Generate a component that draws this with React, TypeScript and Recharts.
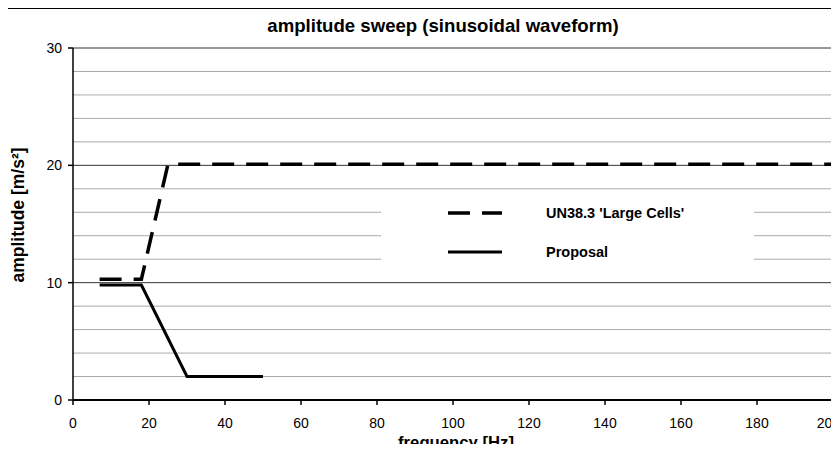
import { LineChart, Line, XAxis, YAxis, CartesianGrid, Legend, Label } from 'recharts'

// UN38.3 'Large Cells' profile
const UN_FREQ = [7, 18, 25, 200]
const UN_AMP = [10.3, 10.3, 20.1, 20.1]

// proposal profile
const PROP_FREQ = [7, 18, 30, 50]
const PROP_AMP = [9.8, 9.8, 2, 2]

const X_TICKS = [0, 20, 40, 60, 80, 100, 120, 140, 160, 180, 200]
const Y_TICKS = [0, 10, 20, 30]
const MINOR_GRID = [2, 4, 6, 8, 12, 14, 16, 18, 22, 24, 26, 28]
const MAJOR_GRID = [10, 20, 30]

const FONT = '"Liberation Sans", Arial, sans-serif'

const SERIES = [
  { key: 'un', name: "UN38.3 'Large Cells'", dash: '22 12', width: 3.5 },
  { key: 'prop', name: 'Proposal', dash: undefined, width: 3 },
]

const unData = UN_FREQ.map((f, i) => ({ f, un: UN_AMP[i] }))
const propData = PROP_FREQ.map((f, i) => ({ f, prop: PROP_AMP[i] }))

function LegendBox() {
  return (
    <div style={{ position: 'relative', width: 373, height: 80, background: '#fff', fontFamily: FONT }}>
      {SERIES.map((s, idx) => (
        <div
          key={s.key}
          style={{
            position: 'absolute', left: 0, top: (idx === 0 ? 18 : 57) - 10, height: 20,
            display: 'flex', alignItems: 'center',
          }}
        >
          <svg width={54} height={20} style={{ marginLeft: 67 }}>
            <line x1={0} y1={10} x2={54} y2={10} stroke="#000" strokeWidth={s.width} strokeDasharray={s.dash} />
          </svg>
          <span style={{ marginLeft: 44, fontSize: 14.5, fontWeight: 'bold', whiteSpace: 'nowrap' }}>{s.name}</span>
        </div>
      ))}
    </div>
  )
}

export default function App() {
  return (
    <div
      style={{
        position: 'relative', width: 839, height: 452, margin: -8, overflow: 'hidden',
        background: '#fff', fontFamily: FONT,
      }}
    >
      <div style={{ position: 'absolute', left: 5, top: 8, width: 900, height: 500, border: '1px solid #000' }} />
      <div
        style={{
          position: 'absolute', left: 443, top: 17, transform: 'translateX(-50%)',
          fontSize: 18.6, lineHeight: '18px', fontWeight: 'bold', whiteSpace: 'nowrap',
        }}
      >
        amplitude sweep (sinusoidal waveform)
      </div>
      <div
        style={{
          position: 'absolute', left: 18, top: 215, transform: 'translate(-50%, -50%) rotate(-90deg)',
          fontSize: 17.5, lineHeight: '17px', fontWeight: 'bold', whiteSpace: 'nowrap',
        }}
      >
        amplitude [m/s²]
      </div>
      <div style={{ position: 'absolute', left: 0, top: 0 }}>
        <LineChart width={839} height={452} margin={{ top: 48, right: 6, bottom: 0, left: 0 }}>
          <CartesianGrid vertical={false} horizontalValues={MINOR_GRID} stroke="#aaaaaa" strokeWidth={1} />
          <CartesianGrid vertical={false} horizontalValues={MAJOR_GRID} stroke="#333" strokeWidth={1} />
          <XAxis
            type="number"
            dataKey="f"
            domain={[0, 200]}
            ticks={X_TICKS}
            allowDataOverflow
            height={52}
            tickSize={5}
            tickMargin={13}
            axisLine={{ stroke: '#000', strokeWidth: 2 }}
            tickLine={{ stroke: '#000', strokeWidth: 1.5 }}
            tick={{ fill: '#000', fontSize: 14, fontFamily: FONT }}
          >
            <Label
              value="frequency [Hz]"
              position="insideBottom"
              offset={4}
              dx={3}
              fill="#000"
              fontSize={16.7}
              fontWeight="bold"
              fontFamily={FONT}
            />
          </XAxis>
          <YAxis
            type="number"
            domain={[0, 30]}
            ticks={Y_TICKS}
            width={73}
            tickSize={5}
            tickMargin={6}
            axisLine={{ stroke: '#000', strokeWidth: 1.5 }}
            tickLine={{ stroke: '#000', strokeWidth: 1.5 }}
            tick={{ fill: '#000', fontSize: 14, fontFamily: FONT }}
          />
          <Legend
            layout="vertical"
            align="center"
            verticalAlign="middle"
            wrapperStyle={{ left: 381, top: 195, width: 373, height: 80 }}
            content={() => <LegendBox />}
          />
          <Line
            data={unData}
            dataKey="un"
            name={SERIES[0].name}
            type="linear"
            stroke="#000"
            strokeWidth={SERIES[0].width}
            strokeDasharray={SERIES[0].dash}
            dot={false}
            isAnimationActive={false}
          />
          <Line
            data={propData}
            dataKey="prop"
            name={SERIES[1].name}
            type="linear"
            stroke="#000"
            strokeWidth={SERIES[1].width}
            dot={false}
            isAnimationActive={false}
          />
        </LineChart>
      </div>
    </div>
  )
}
